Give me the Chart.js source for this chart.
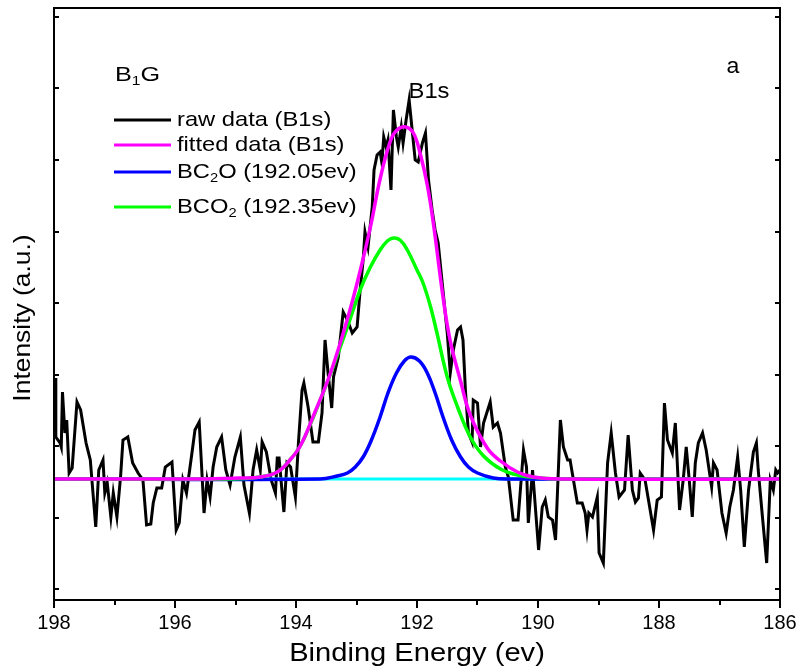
<!DOCTYPE html>
<html>
<head>
<meta charset="utf-8">
<title>B1s XPS spectrum</title>
<script src="https://cdn.jsdelivr.net/npm/chart.js@4"></script>
<style>
  html, body { margin: 0; padding: 0; background: #fff; }
  #wrap { width: 801px; height: 671px; position: relative; }
</style>
</head>
<body>
<div id="wrap"><canvas id="xpsChart"></canvas></div>
<script>
// raw spectrum (binding energy in eV, intensity in arbitrary units)
const rawEnergy = [
  198.00,197.98,197.97,197.90,197.88,197.86,197.82,197.79,197.75,197.70,
  197.62,197.56,197.47,197.40,197.31,197.26,197.19,197.16,197.12,197.06,
  197.02,196.96,196.90,196.86,196.78,196.70,196.61,196.53,196.47,196.40,
  196.36,196.30,196.22,196.16,196.05,195.98,195.93,195.87,195.81,195.72,
  195.67,195.60,195.56,195.52,195.47,195.42,195.37,195.31,195.23,195.16,
  195.09,195.01,194.92,194.86,194.77,194.71,194.65,194.59,194.56,194.49,
  194.41,194.34,194.31,194.28,194.20,194.15,194.09,194.01,193.96,193.90,
  193.87,193.80,193.72,193.63,193.57,193.52,193.47,193.41,193.38,193.30,
  193.22,193.15,193.07,192.99,192.94,192.89,192.86,192.81,192.74,192.71,
  192.66,192.61,192.58,192.55,192.51,192.48,192.43,192.39,192.34,192.31,
  192.26,192.23,192.18,192.13,192.08,192.03,191.98,191.91,191.86,191.81,
  191.75,191.70,191.65,191.58,191.50,191.45,191.40,191.33,191.28,191.24,
  191.20,191.15,191.09,191.07,191.00,190.95,190.90,190.79,190.74,190.67,
  190.62,190.54,190.49,190.41,190.33,190.24,190.19,190.16,190.09,189.99,
  189.93,189.88,189.83,189.76,189.71,189.63,189.58,189.51,189.47,189.35,
  189.27,189.22,189.19,189.16,189.10,189.02,188.99,188.92,188.85,188.79,
  188.72,188.66,188.57,188.51,188.44,188.39,188.34,188.31,188.23,188.09,
  188.03,187.96,187.91,187.86,187.78,187.73,187.66,187.60,187.55,187.50,
  187.45,187.40,187.35,187.28,187.22,187.13,187.10,187.04,186.96,186.89,
  186.83,186.77,186.70,186.65,186.59,186.52,186.44,186.39,186.36,186.29,
  186.22,186.16,186.11,186.07,186.04,186.00
];
const rawIntensity = [
  57,101,42,36,32,87,46,59,6,11,
  77,69,36,19,-48,9,19,-14,-4,-38,
  -14,-38,2,39,42,16,6,-1,-46,-45,
  -24,-9,-9,12,17,-51,-44,-1,-14,26,
  49,57,12,-34,-1,-18,12,32,42,9,
  -6,22,42,-6,-34,9,29,9,37,27,
  -1,-14,21,21,-33,16,12,-18,36,89,
  96,72,37,37,66,139,106,71,102,122,
  167,159,146,152,189,219,247,232,272,309,
  324,327,316,342,332,339,289,369,342,332,
  352,336,359,379,349,319,317,336,346,299,
  269,249,236,194,146,106,129,149,152,139,
  89,46,37,79,76,32,56,77,52,56,
  46,12,2,-41,-41,29,12,-44,9,-71,
  -28,-21,-38,-41,-61,59,32,19,19,-24,
  -24,-34,-51,-34,-38,-18,-74,-84,16,46,
  6,-18,-11,44,-11,-23,-19,6,-1,-51,
  -21,-18,76,39,26,56,-31,-1,32,-1,
  -38,16,36,46,29,-8,16,9,-34,-54,
  -28,-11,22,-11,-68,-11,27,36,9,-38,
  -84,-1,-11,9,6,9
];

// fitted envelope
const fitEnergy = [198.00,195.59,194.92,194.59,194.31,194.10,193.93,193.72,193.43,193.15,
  192.94,192.77,192.61,192.44,192.33,192.19,192.06,191.95,191.83,191.73,
  191.57,191.45,191.28,191.12,190.84,190.62,190.34,190.08,189.63,186.00];
const fitIntensity = [0,0,1,2,7,19,33,62,106,160,
  208,252,300,338,349,352,346,326,294,256,
  182,138,98,64,31,18,7,2,0,0];

// BC2O component (192.05 eV)
const bc2oEnergy = [198.00,193.60,193.32,193.15,193.02,192.89,192.76,192.61,192.48,192.34,
  192.21,192.10,191.96,191.83,191.70,191.57,191.42,191.28,191.15,191.00,
  190.74,190.46,186.00];
const bc2oIntensity = [0,0,3,6,12,22,38,62,86,106,
  118,122,118,106,86,62,38,22,12,6,
  1,0,0];

// BCO2 component (192.35 eV)
const bco2Energy = [198.00,195.09,194.59,194.31,194.10,193.93,193.72,193.43,193.15,192.94,
  192.77,192.61,192.49,192.39,192.28,192.16,192.00,191.90,191.78,191.67,
  191.50,191.33,191.12,190.90,190.62,190.34,189.96,189.63,186.00];
const bco2Intensity = [0,0,2,7,19,33,61,105,152,189,
  212,229,238,241,239,229,209,196,173,146,
  102,72,42,23,10,4,1,0,0];

const baselineEnergy = [198, 186];
const baselineIntensity = [0, 0];

const yTickValues = [-110, -38.5, 33, 104.5, 176, 247.5, 319, 390.5, 462];

const FONT = '"Liberation Sans", Arial, sans-serif';
Chart.defaults.font.family = FONT;

const toPoints = (xs, ys) => xs.map((x, i) => ({ x, y: ys[i] }));

const legendItems = [
  { color: "#000000", parts: [{ t: "raw data (B1s)" }] },
  { color: "#ff00ff", parts: [{ t: "fitted data (B1s)" }] },
  { color: "#0000ff", parts: [{ t: "BC" }, { t: "2", sub: true }, { t: "O (192.05ev)" }] },
  { color: "#00ff00", parts: [{ t: "BCO" }, { t: "2", sub: true }, { t: " (192.35ev)" }] },
];
const legendRowsY = [120, 145, 172, 207];

// text in the picture is a little wider than the font, so stretch it sideways
function drawRich(ctx, parts, x, y, size, sx, align) {
  ctx.save();
  ctx.translate(x, y);
  ctx.scale(sx, 1);
  let total = 0;
  parts.forEach((p) => {
    ctx.font = `${p.sub ? Math.round(size * 0.62) : size}px ${FONT}`;
    total += ctx.measureText(p.t).width;
  });
  let cx = align === "center" ? -total / 2 : 0;
  ctx.textAlign = "left";
  parts.forEach((p) => {
    ctx.font = `${p.sub ? Math.round(size * 0.62) : size}px ${FONT}`;
    ctx.fillText(p.t, cx, p.sub ? size * 0.32 : 0);
    cx += ctx.measureText(p.t).width;
  });
  ctx.restore();
}

const decor = {
  id: "decor",
  afterDraw(chart) {
    const { ctx, chartArea: a, scales } = chart;
    ctx.save();
    ctx.strokeStyle = "#000";
    ctx.lineWidth = 2;
    ctx.strokeRect(a.left, a.top, a.right - a.left, a.bottom - a.top);

    // x ticks, outward
    for (let v = 186; v <= 198; v++) {
      const px = Math.round(scales.x.getPixelForValue(v));
      const len = v % 2 === 0 ? 8 : 5;
      ctx.beginPath();
      ctx.moveTo(px, a.bottom);
      ctx.lineTo(px, a.bottom + len);
      ctx.stroke();
    }
    // y ticks, inward on both sides
    yTickValues.forEach((v) => {
      const py = Math.round(scales.y.getPixelForValue(v));
      ctx.beginPath();
      ctx.moveTo(a.left, py);
      ctx.lineTo(a.left + 5, py);
      ctx.moveTo(a.right, py);
      ctx.lineTo(a.right - 5, py);
      ctx.stroke();
    });

    ctx.fillStyle = "#000";
    ctx.textBaseline = "middle";

    // axis titles
    drawRich(ctx, [{ t: "Binding Energy (ev)" }], (a.left + a.right) / 2, 654, 26, 1.12, "center");
    ctx.save();
    ctx.translate(23, 318);
    ctx.rotate(-Math.PI / 2);
    drawRich(ctx, [{ t: "Intensity (a.u.)" }], 0, 0, 24, 1.1, "center");
    ctx.restore();

    // legend block
    drawRich(ctx, [{ t: "B" }, { t: "1", sub: true }, { t: "G" }], 115, 75, 21, 1.2, "left");
    legendItems.forEach((item, i) => {
      const y = legendRowsY[i];
      ctx.strokeStyle = item.color;
      ctx.lineWidth = 3;
      ctx.beginPath();
      ctx.moveTo(114, y);
      ctx.lineTo(171, y);
      ctx.stroke();
      drawRich(ctx, item.parts, 177, y, 21, 1.13, "left");
    });

    drawRich(ctx, [{ t: "B1s" }], 429, 92, 22, 1.08, "center");
    drawRich(ctx, [{ t: "a" }], 733, 67, 22, 1.05, "center");
    ctx.restore();
  },
};

new Chart(document.getElementById("xpsChart"), {
  type: "line",
  data: {
    datasets: [
      { label: "fitted data (B1s)", data: toPoints(fitEnergy, fitIntensity), borderColor: "#ff00ff", borderWidth: 3.5, tension: 0.4, order: 1 },
      { label: "BCO2 (192.35ev)", data: toPoints(bco2Energy, bco2Intensity), borderColor: "#00ff00", borderWidth: 3.5, tension: 0.4, order: 2 },
      { label: "BC2O (192.05ev)", data: toPoints(bc2oEnergy, bc2oIntensity), borderColor: "#0000ff", borderWidth: 3.5, tension: 0.4, order: 3 },
      { label: "baseline", data: toPoints(baselineEnergy, baselineIntensity), borderColor: "#00ffff", borderWidth: 3, order: 4 },
      { label: "raw data (B1s)", data: toPoints(rawEnergy, rawIntensity), borderColor: "#000000", borderWidth: 3, tension: 0, order: 5 },
    ],
  },
  options: {
    responsive: true,
    maintainAspectRatio: false,
    animation: false,
    elements: { point: { radius: 0 }, line: { fill: false, borderJoinStyle: "miter" } },
    layout: { padding: { top: 8, right: 21, left: 0, bottom: 0 } },
    plugins: { legend: { display: false }, tooltip: { enabled: false } },
    scales: {
      x: {
        type: "linear",
        reverse: true,
        min: 186,
        max: 198,
        afterFit(scale) { scale.height = 71; },
        border: { display: false },
        grid: { drawOnChartArea: false, tickLength: 8, tickColor: "rgba(0,0,0,0)" },
        ticks: {
          stepSize: 1,
          autoSkip: false,
          maxRotation: 0,
          color: "#000",
          font: { size: 20 },
          padding: 3,
          callback(value) {
            return value % 2 === 0 ? String(value) : "";
          },
        },
      },
      y: {
        min: -121,
        max: 471,
        afterFit(scale) { scale.width = 54; },
        border: { display: false },
        grid: { display: false },
        ticks: { display: false },
      },
    },
  },
  plugins: [decor],
});
</script>
</body>
</html>
